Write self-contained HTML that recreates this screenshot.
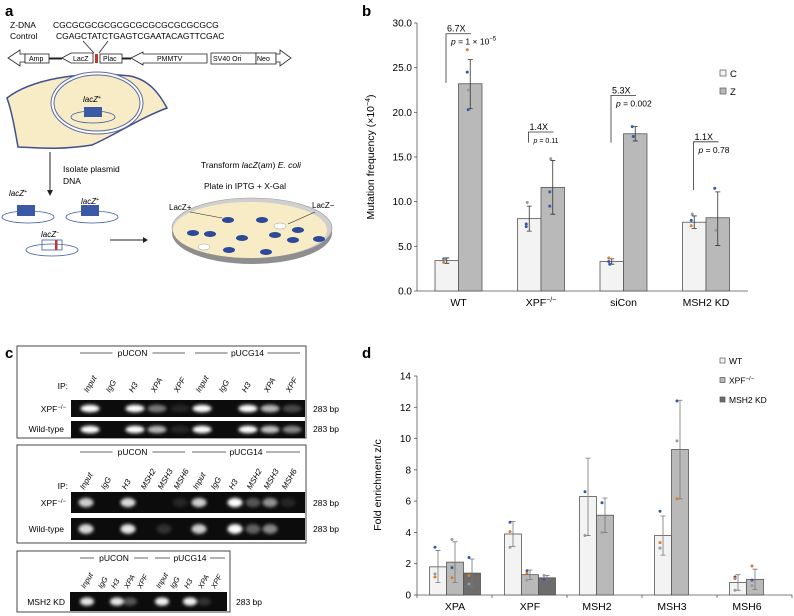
<!DOCTYPE html>
<html><head><meta charset="utf-8">
<style>
html,body{margin:0;padding:0;background:#fff;}
svg{display:block;font-family:"Liberation Sans",sans-serif;}
</style></head>
<body>
<svg id="fig" width="794" height="616" viewBox="0 0 794 616" xmlns="http://www.w3.org/2000/svg">
<defs>
<filter id="blur" x="-50%" y="-50%" width="200%" height="200%"><feGaussianBlur stdDeviation="1.6"/></filter>
</defs>

<!-- Panel a -->
<g>
<text x="5" y="16" font-size="15" font-weight="bold">a</text>
<text x="10" y="28" font-size="8.5">Z-DNA</text>
<text x="10" y="39" font-size="8.5">Control</text>
<text x="53" y="28" font-size="8.5">CGCGCGCGCGCGCGCGCGCGCGCGCG</text>
<text x="56" y="39" font-size="8.5">CGAGCTATCTGAGTCGAATACAGTTCGAC</text>
<g stroke="#222" stroke-width="0.8" fill="#fff">
<line x1="83" y1="41" x2="94" y2="53"/><line x1="108" y1="41" x2="99" y2="53"/>
<polygon points="8,58 20,50 20,54 25,54 25,62 20,62 20,66"/>
<rect x="25" y="54" width="24" height="9"/>
<line x1="49" y1="58.5" x2="62" y2="58.5" stroke-width="2"/>
<polygon points="62,58 71,53 93,53 93,63 71,63"/>
<rect x="95" y="54" width="3" height="9" fill="#c0392b" stroke="none"/>
<rect x="100" y="54" width="22" height="9"/>
<line x1="122" y1="58.5" x2="131" y2="58.5" stroke-width="2"/>
<polygon points="131,58 143,52 143,54 207,54 207,63 143,63 143,65"/>
<rect x="211" y="53" width="45" height="11"/>
<rect x="256" y="53" width="20" height="11"/>
<polygon points="276,54 280,54 280,50 291,58 280,66 280,62 276,62"/>
</g>
<text x="29" y="61" font-size="7">Amp</text>
<text x="73" y="61" font-size="7">LacZ</text>
<text x="103" y="61" font-size="7">Plac</text>
<text x="157" y="61" font-size="7">PMMTV</text>
<text x="213" y="61" font-size="7">SV40 Ori</text>
<text x="257" y="61" font-size="7">Neo</text>
<path d="M7,98 C30,80 80,70 130,76 C150,80 160,95 167,108 C140,118 115,135 92,145 C62,150 38,148 18,147 C15,130 12,112 7,98 Z" fill="#f7ecc5" stroke="#3f4f8e" stroke-width="1.5"/>
<ellipse cx="97" cy="103" rx="46" ry="31" fill="#fff" stroke="#5a6aa6" stroke-width="1"/>
<ellipse cx="97" cy="103" rx="43" ry="28" fill="#f7ecc5" stroke="#5a6aa6" stroke-width="1"/>
<text x="83" y="102" font-size="8" font-style="italic">lacZ<tspan font-size="5" dy="-3">+</tspan></text>
<rect x="84" y="107" width="18" height="10" fill="#3b5aa6"/>
<ellipse cx="93" cy="117" rx="22" ry="6" fill="none" stroke="#3b5aa6" stroke-width="0.8"/>
<line x1="50" y1="152" x2="50" y2="193" stroke="#222" stroke-width="1"/>
<polygon points="47,190 50,196 53,190" fill="#222"/>
<text x="63" y="172" font-size="8.5">Isolate plasmid</text>
<text x="63" y="184" font-size="8.5">DNA</text>
<text x="9" y="196" font-size="8" font-style="italic">lacZ<tspan font-size="5" dy="-3">+</tspan></text>
<rect x="17" y="205" width="18" height="11" fill="#3b5aa6"/>
<ellipse cx="28" cy="217" rx="26" ry="6" fill="none" stroke="#3b5aa6" stroke-width="0.8"/>
<text x="81" y="204" font-size="8" font-style="italic">lacZ<tspan font-size="5" dy="-3">+</tspan></text>
<rect x="81" y="205" width="18" height="11" fill="#3b5aa6"/>
<ellipse cx="92" cy="217" rx="26" ry="6" fill="none" stroke="#3b5aa6" stroke-width="0.8"/>
<text x="41" y="237" font-size="8" font-style="italic">lacZ<tspan font-size="5" dy="-3">−</tspan></text>
<rect x="42" y="240" width="20" height="10" fill="#fff" stroke="#3b5aa6" stroke-width="0.8"/>
<rect x="55" y="240" width="2.5" height="10" fill="#d03030"/>
<ellipse cx="52" cy="250" rx="26" ry="6" fill="none" stroke="#3b5aa6" stroke-width="0.8"/>
<line x1="110" y1="240" x2="145" y2="240" stroke="#222" stroke-width="1"/>
<polygon points="143,237 148,240 143,243" fill="#222"/>
<text x="201" y="168" font-size="8.5">Transform <tspan font-style="italic">lacZ</tspan>(<tspan font-style="italic">am</tspan>) <tspan font-style="italic">E. coli</tspan></text>
<text x="204" y="189" font-size="8.5">Plate in IPTG + X-Gal</text>
<g>
<ellipse cx="252" cy="233" rx="80" ry="31" fill="#8e8e8e"/>
<ellipse cx="252" cy="228" rx="80" ry="30" fill="#cfcfcf" stroke="#999" stroke-width="0.6"/>
<ellipse cx="250" cy="230" rx="77" ry="28" fill="#f7ecc5"/>
<g fill="#2d4a9a">
<ellipse cx="228" cy="220" rx="6" ry="3"/><ellipse cx="262" cy="220" rx="6" ry="3"/><ellipse cx="298" cy="230" rx="6" ry="3"/>
<ellipse cx="193" cy="233" rx="6" ry="3"/><ellipse cx="210" cy="234" rx="6" ry="3"/><ellipse cx="242" cy="238" rx="6" ry="3"/>
<ellipse cx="275" cy="235" rx="6" ry="3"/><ellipse cx="293" cy="240" rx="6" ry="3"/><ellipse cx="319" cy="239" rx="6" ry="3"/>
<ellipse cx="229" cy="250" rx="6" ry="3"/><ellipse cx="266" cy="252" rx="6" ry="3"/>
</g>
<ellipse cx="280" cy="226" rx="6" ry="3" fill="#fff" stroke="#999" stroke-width="0.5"/>
<ellipse cx="204" cy="247" rx="6" ry="3" fill="#fff" stroke="#999" stroke-width="0.5"/>
</g>
<text x="169" y="210" font-size="8">LacZ+</text>
<line x1="190" y1="212" x2="222" y2="218" stroke="#222" stroke-width="0.6"/>
<text x="312" y="208" font-size="8">LacZ−</text>
<line x1="315" y1="212" x2="288" y2="224" stroke="#222" stroke-width="0.6"/>
</g>

<!-- Panel c -->
<g id="panelC">
<text x="5" y="358" font-size="15" font-weight="bold">c</text>
</g>

<!-- Panel b -->
<g id="panelB">
<text x="362" y="16" font-size="15" font-weight="bold">b</text>
</g>

<!-- Panel d -->
<g id="panelD">
<text x="362" y="358" font-size="15" font-weight="bold">d</text>
</g>
</svg>

<script>
// ---------- Panel b data ----------
const bCategories = ["WT", "XPF", "siCon", "MSH2 KD"];
const bSeries = ["C", "Z"];
const bValuesC = [3.4, 8.1, 3.3, 7.7];
const bValuesZ = [23.2, 11.6, 17.6, 8.2];
const bErrLowC = [3.1, 6.7, 3.0, 7.0];
const bErrHighC = [3.7, 9.5, 3.6, 8.4];
const bErrLowZ = [20.4, 8.6, 16.8, 5.1];
const bErrHighZ = [25.9, 14.6, 18.4, 11.1];
const bDotsC = [[3.6, 3.5, 3.2], [7.5, 9.9, 7.2], [3.3, 3.0, 3.7], [7.9, 8.6, 7.3]];
const bDotsZ = [[24.5, 22.5, 27.0, 20.3], [11.1, 14.8, 9.5], [18.4, 17.3], [11.5, 6.8]];
const bTicks = [0, 5, 10, 15, 20, 25, 30];
const bTickLabels = ["0.0", "5.0", "10.0", "15.0", "20.0", "25.0", "30.0"];
const bFold = ["6.7X", "1.4X", "5.3X", "1.1X"];
const bPvals = ["p = 1 × 10", "p = 0.11", "p = 0.002", "p = 0.78"];
const bBracketTop = [28.8, 17.8, 21.9, 16.7];
const bBracketBottom = [23.3, 16.6, 16.6, 11.3];

// ---------- Panel d data ----------
const dCategories = ["XPA", "XPF", "MSH2", "MSH3", "MSH6"];
const dSeries = ["WT", "XPF−/−", "MSH2 KD"];
const dValuesWT = [1.8, 3.9, 6.3, 3.8, 0.8];
const dValuesXPF = [2.1, 1.3, 5.1, 9.3, 1.0];
const dValuesKD = [1.4, 1.1, null, null, null];
const dErrLowWT = [0.8, 3.1, 3.8, 2.55, 0.3];
const dErrHighWT = [2.85, 4.7, 8.75, 5.05, 1.3];
const dErrLowXPF = [0.8, 1.0, 4.0, 6.15, 0.35];
const dErrHighXPF = [3.4, 1.6, 6.2, 12.45, 1.65];
const dErrLowKD = [0.5, 0.95, null, null, null];
const dErrHighKD = [2.3, 1.25, null, null, null];
const dDotsWT = [[3.05, 1.35, 1.15], [4.65, 3.05, 4.05], [6.6, 3.8], [5.35, 3.0, 3.35], [1.15, 0.3, 1.05]];
const dDotsXPF = [[1.75, 3.55, 1.1], [1.55, 0.95, 1.4], [5.9, 4.0], [12.4, 9.85, 6.15], [0.95, 0.6, 1.85]];
const dDotsKD = [[2.4, 0.7, 1.25], [1.0, 1.25], [], [], []];
const dTicks = [0, 2, 4, 6, 8, 10, 12, 14];

const NS = "http://www.w3.org/2000/svg";
const dotColors = ["#3b56a8", "#9a9a9a", "#e07b2a", "#e07b2a"];
function mk(parent, tag, attrs, text) {
  const e = document.createElementNS(NS, tag);
  for (const k in attrs) e.setAttribute(k, attrs[k]);
  if (text !== undefined) e.textContent = text;
  parent.appendChild(e);
  return e;
}

// ---------- draw panel b ----------
(function () {
  const g = document.getElementById("panelB");
  const x0 = 417, x1 = 748, yTop = 23, yBot = 291, vmax = 30;
  const y = v => yBot - (yBot - yTop) * v / vmax;
  const groupX = i => 458.5 + i * 82.5;
  const bw = 23.5;
  bTicks.forEach((t, i) => {
    const tl = mk(g, "line", { x1: x0 - 3, x2: x0, y1: y(t), y2: y(t), stroke: "#555", "stroke-width": 0.8 });
    
    
    const lab = mk(g, "text", { x: x0 - 5, y: y(t) + 3.5, "font-size": 10, "text-anchor": "end" }, bTickLabels[i]);
    
    
  });
  const ax = mk(g, "line", { x1: x0, x2: x0, y1: yTop, y2: yBot, stroke: "#555", "stroke-width": 0.8 });
  
  
  const axx = mk(g, "line", { x1: x0, x2: x1, y1: yBot, y2: yBot, stroke: "#555", "stroke-width": 0.8 });
  
  
  const yt = mk(g, "text", { x: 0, y: 0, "font-size": 10.5, "text-anchor": "middle", transform: "translate(374,157) rotate(-90)" });
  
  
  yt.innerHTML = 'Mutation frequency (×10<tspan font-size="7" dy="-4">−4</tspan><tspan dy="4">)</tspan>';
  const series = [[bValuesC, bErrLowC, bErrHighC, bDotsC, "#f3f3f3"], [bValuesZ, bErrLowZ, bErrHighZ, bDotsZ, "#b9b9b9"]];
  bCategories.forEach((c, i) => {
    const cx = groupX(i);
    series.forEach((s, j) => {
      const bx = cx - bw + j * bw;
      const r = mk(g, "rect", { x: bx, y: y(s[0][i]), width: bw, height: yBot - y(s[0][i]), fill: s[4], stroke: "#555", "stroke-width": 0.8 });
      
      
      const mx = bx + bw / 2;
      const e = mk(g, "path", { d: `M${mx},${y(s[1][i])}V${y(s[2][i])}M${mx - 2.5},${y(s[1][i])}H${mx + 2.5}M${mx - 2.5},${y(s[2][i])}H${mx + 2.5}`, stroke: "#333", "stroke-width": 0.8, fill: "none" });
      
      
      s[3][i].forEach((v, k) => {
        const d = mk(g, "circle", { cx: mx - 3 + (k % 2), cy: y(v), r: 1.5, fill: dotColors[(k + i) % 3 === 0 ? 0 : (k % 3)] });
        
        
      });
    });
    const lbl = mk(g, "text", { x: cx, y: 306, "font-size": 10.5, "text-anchor": "middle" });
    
    
    if (c === "XPF") lbl.innerHTML = 'XPF<tspan font-size="7" dy="-4">−/−</tspan>'; else lbl.textContent = c;
    // bracket
    const bx0 = cx - 12.5, by = y(bBracketTop[i]);
    const br = mk(g, "path", { d: `M${bx0},${y(bBracketBottom[i])}V${by}H${bx0 + 25}`, stroke: "#333", "stroke-width": 0.8, fill: "none" });
    
    
    const f = mk(g, "text", { x: bx0 + 1, y: by - 2, "font-size": 9 }, bFold[i]);
    
    
    const p = mk(g, "text", { x: bx0 + 5, y: by + 11, "font-size": i === 1 ? 7 : 8.5 });
    
    
    p.innerHTML = '<tspan font-style="italic">p</tspan>' + bPvals[i].slice(1) + (i === 0 ? '<tspan font-size="6" dy="-4">−5</tspan>' : '');
  });
  bSeries.forEach((s, j) => {
    const lr = mk(g, "rect", { x: 720, y: 70 + j * 18, width: 6, height: 6, fill: j ? "#b9b9b9" : "#f3f3f3", stroke: "#555", "stroke-width": 0.7 });
    
    
    const lt = mk(g, "text", { x: 730, y: 77 + j * 18, "font-size": 9.5 }, s);
    
    
  });
})();

// ---------- draw panel d ----------
(function () {
  const g = document.getElementById("panelD");
  const x0 = 417, x1 = 792, yTop = 376, yBot = 595, vmax = 14;
  const y = v => yBot - (yBot - yTop) * v / vmax;
  const groupX = i => 455 + i * 75;
  const bw = 17;
  const fills = ["#f3f3f3", "#b9b9b9", "#6c6c6c"];
  dTicks.forEach(t => {
    const tl = mk(g, "line", { x1: x0 - 3, x2: x0, y1: y(t), y2: y(t), stroke: "#555", "stroke-width": 0.8 });
    
    
    const lab = mk(g, "text", { x: x0 - 6, y: y(t) + 3.5, "font-size": 10, "text-anchor": "end" }, String(t));
    
    
  });
  const ax = mk(g, "line", { x1: x0, x2: x0, y1: yTop, y2: yBot, stroke: "#555", "stroke-width": 0.8 });
  
  
  const axx = mk(g, "line", { x1: x0, x2: x1, y1: yBot, y2: yBot, stroke: "#555", "stroke-width": 0.8 });
  
  
  for (let k = 0; k <= dCategories.length; k++) {
    const tk = mk(g, "line", { x1: x0 + k * 75, x2: x0 + k * 75, y1: yBot, y2: yBot + 3, stroke: "#555", "stroke-width": 0.8 });
    
    
  }
  const yt = mk(g, "text", { x: 0, y: 0, "font-size": 10.5, "text-anchor": "middle", transform: "translate(381,485) rotate(-90)" }, "Fold enrichment z/c");
  
  
  const series = [[dValuesWT, dErrLowWT, dErrHighWT, dDotsWT], [dValuesXPF, dErrLowXPF, dErrHighXPF, dDotsXPF], [dValuesKD, dErrLowKD, dErrHighKD, dDotsKD]];
  dCategories.forEach((c, i) => {
    const cx = groupX(i);
    series.forEach((s, j) => {
      if (s[0][i] === null) return;
      const bx = cx - 1.5 * bw + j * bw;
      const r = mk(g, "rect", { x: bx, y: y(s[0][i]), width: bw, height: yBot - y(s[0][i]), fill: fills[j], stroke: "#555", "stroke-width": 0.8 });
      
      
      const mx = bx + bw / 2;
      const e = mk(g, "path", { d: `M${mx},${y(s[1][i])}V${y(s[2][i])}M${mx - 2.5},${y(s[1][i])}H${mx + 2.5}M${mx - 2.5},${y(s[2][i])}H${mx + 2.5}`, stroke: "#777", "stroke-width": 0.8, fill: "none" });
      
      
      s[3][i].forEach((v, k) => {
        const d = mk(g, "circle", { cx: mx - 3, cy: y(v), r: 1.5, fill: dotColors[k] });
        
        
      });
    });
    const lbl = mk(g, "text", { x: cx + (i >= 2 ? -8 : 0), y: 610, "font-size": 10.5, "text-anchor": "middle" }, c);
    
    
  });
  dSeries.forEach((s, j) => {
    const lr = mk(g, "rect", { x: 720, y: 358 + j * 19.5, width: 5, height: 5, fill: fills[j], stroke: "#555", "stroke-width": 0.7 });
    
    
    const lt = mk(g, "text", { x: 729, y: 364 + j * 19.5, "font-size": 8.5 });
    
    
    if (j === 1) lt.innerHTML = 'XPF<tspan font-size="6" dy="-3">−/−</tspan>'; else lt.textContent = s;
  });
})();

// ---------- draw panel c (gels) ----------
const gelLanes1 = ["Input", "IgG", "H3", "XPA", "XPF"];
const gelLanes2 = ["Input", "IgG", "H3", "MSH2", "MSH3", "MSH6"];
const gel1Xpf = [1, 0, 1, 0.45, 0.1, 1, 0, 1, 0.7, 0.25];
const gel1Wt = [1, 0, 1, 0.7, 0.1, 1, 0, 1, 0.75, 0.5];
const gel2Xpf = [0.8, 0, 0.85, 0, 0, 0.1, 0.8, 0, 1, 0.3, 0.55, 0.1];
const gel2Wt = [0.85, 0, 0.9, 0, 0.15, 0, 0.8, 0, 1, 0.35, 0.5, 0];
const gel3Kd = [0.9, 0, 0.9, 0.3, 0, 0.95, 0, 0.95, 0.15, 0];
(function () {
  const g = document.getElementById("panelC");
  function box(x, y, w, h, name) {
    const b = mk(g, "rect", { x: x, y: y, width: w, height: h, fill: "#fff", stroke: "#333", "stroke-width": 0.9 });
    
    
  }
  function header(xa, xb, y, label) {
    const cx = (xa + xb) / 2;
    const l = mk(g, "path", { d: `M${xa},${y - 3}H${cx - 20}M${cx + 20},${y - 3}H${xb}`, stroke: "#333", "stroke-width": 0.7 });
    
    
    const t = mk(g, "text", { x: cx, y: y, "font-size": 8.5, "text-anchor": "middle" }, label);
    
    
  }
  function lanes(xs, y, names, fs) {
    xs.forEach((x, i) => {
      const t = mk(g, "text", { x: 0, y: 0, "font-size": fs, "font-style": "italic", transform: `translate(${x - 2},${y}) rotate(-60)` }, names[i % names.length]);
      
      
    });
  }
  function gel(x, y, w, h, xs, vals, bw, name) {
    const r = mk(g, "rect", { x: x, y: y, width: w, height: h, fill: "#0c0c0c" });
    
    
    xs.forEach((cx, i) => {
      const v = vals[i];
      if (v <= 0) return;
      const e = mk(g, "ellipse", { cx: cx, cy: y + h / 2, rx: bw / 2, ry: h * 0.22, fill: "#fff", opacity: v, filter: "url(#blur)" });
      
      
    });
  }
  function txt(x, y, s, anchor, name, html) {
    const t = mk(g, "text", { x: x, y: y, "font-size": 8.5, "text-anchor": anchor || "start" });
    if (html) t.innerHTML = s; else t.textContent = s;
    
    
  }
  const xs1 = [90, 112, 135, 157, 180, 202, 225, 248, 270, 292];
  box(17, 346, 289, 92, "gel-box-1");
  header(80, 185, 356, "pUCON"); header(195, 300, 356, "pUCG14");
  lanes(xs1, 393, gelLanes1, 8);
  txt(68, 389, "IP:", "end", "ip-label");
  gel(71, 400, 234, 17, xs1, gel1Xpf, 19, "gel-xpf-row");
  gel(71, 421, 234, 17, xs1, gel1Wt, 19, "gel-wt-row");
  txt(66, 412, 'XPF<tspan font-size="6" dy="-3">−/−</tspan>', "end", "row-label-xpf", true);
  txt(64, 432, "Wild-type", "end", "row-label-wt");
  txt(313, 412, "283 bp", "start", "band-size-label");
  txt(313, 432, "283 bp", "start", "band-size-label");

  const xs2 = [86, 107, 128, 147, 164, 180, 199, 217, 235, 253, 270, 288];
  box(17, 445, 289, 98, "gel-box-2");
  header(80, 185, 455, "pUCON"); header(192, 300, 455, "pUCG14");
  lanes(xs2, 490, gelLanes2, 8);
  txt(68, 489, "IP:", "end", "ip-label");
  gel(71, 492, 234, 21, xs2, gel2Xpf, 15, "gel-xpf-row-2");
  gel(71, 518, 234, 22, xs2, gel2Wt, 15, "gel-wt-row-2");
  txt(66, 506, 'XPF<tspan font-size="6" dy="-3">−/−</tspan>', "end", "row-label-xpf", true);
  txt(64, 532, "Wild-type", "end", "row-label-wt");
  txt(313, 506, "283 bp", "start", "band-size-label");
  txt(313, 532, "283 bp", "start", "band-size-label");

  const xs3 = [87, 104, 117, 130, 143, 162, 176, 190, 204, 217];
  box(17, 551, 213, 61, "gel-box-3");
  header(80, 148, 561, "pUCON"); header(155, 225, 561, "pUCG14");
  lanes(xs3, 589, gelLanes1, 7.5);
  gel(70, 592, 157, 19, xs3, gel3Kd, 14, "gel-msh2kd-row");
  txt(65, 605, "MSH2 KD", "end", "row-label-msh2kd");
  txt(236, 605, "283 bp", "start", "band-size-label");
})();
</script>
</body></html>
